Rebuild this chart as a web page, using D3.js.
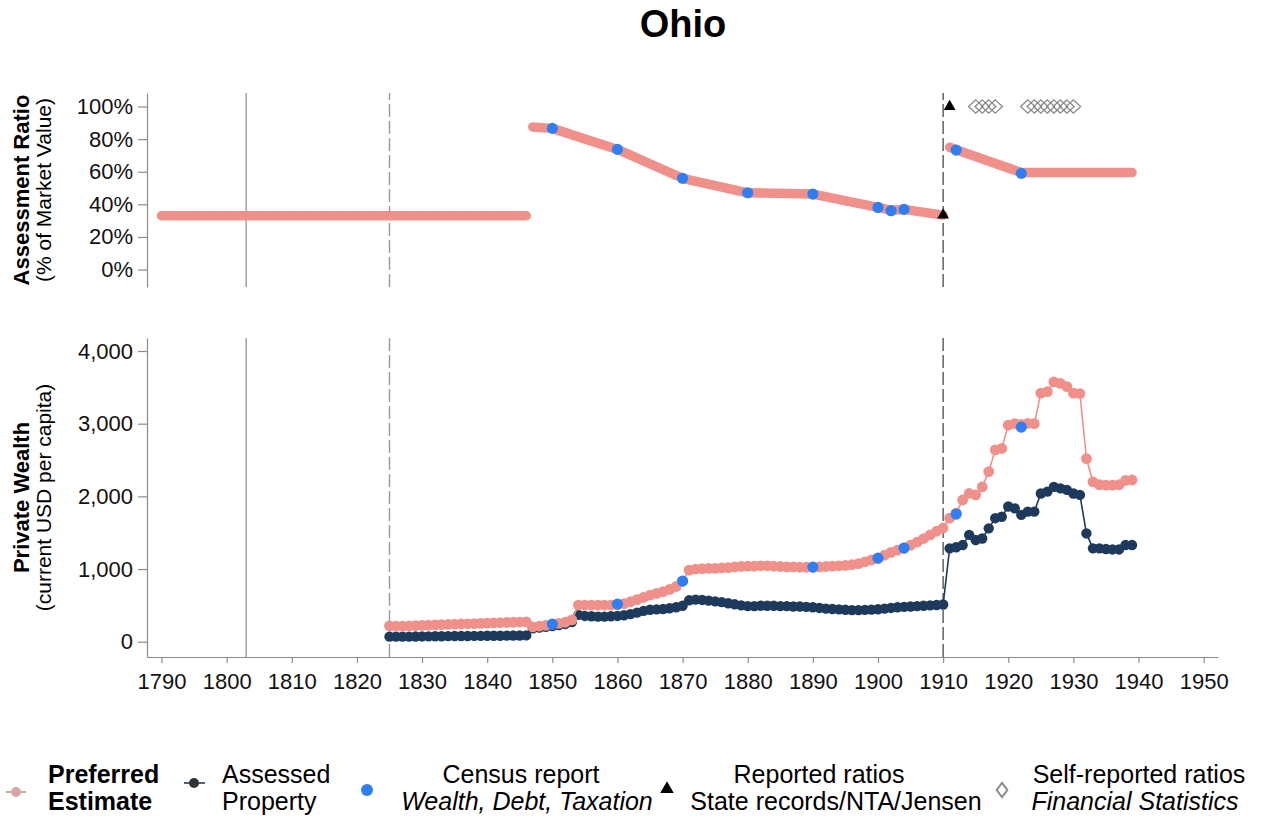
<!DOCTYPE html>
<html><head><meta charset="utf-8">
<script src="https://cdn.jsdelivr.net/npm/d3@7"></script>
<style>
body{margin:0;background:#fff;}
svg{display:block;font-family:"Liberation Sans",Arial,Helvetica,sans-serif;}
</style></head><body>
<svg id="chart" width="1267" height="816"></svg>
<script>
// ---------- data ----------
const xTickYears = [1790,1800,1810,1820,1830,1840,1850,1860,1870,1880,1890,1900,1910,1920,1930,1940,1950];
const ratioTicks = [0,20,40,60,80,100];
const wealthTicks = [0,1000,2000,3000,4000];
const refLineYears = [1803,1825,1910];

// Assessment ratio (preferred), three separate segments
const ratioSeg1Years = [1790,1846];
const ratioSeg1Values = [33,33];
const ratioSeg2Years = [1847,1850,1860,1870,1880,1890,1900,1902,1904,1910];
const ratioSeg2Values = [87.5,86.6,73.7,56,47.1,46.3,38.1,36.4,36.9,33.4];
const ratioSeg3Years = [1911,1912,1922,1939];
const ratioSeg3Values = [75,73.5,59.5,59.5];

// Census report ratios
const censusRatioYears = [1850,1860,1870,1880,1890,1900,1902,1904,1912,1922];
const censusRatioValues = [86.6,73.7,56,47.1,46.3,38.1,36.1,36.9,73.3,59];

// Reported ratios (state records / NTA / Jensen)
const reportedYears = [1910,1911];
const reportedValues = [33.4,100];

// Self-reported ratios (Financial Statistics)
const selfRepYears = [1915,1916,1917,1918,1923,1924,1925,1926,1927,1928,1929,1930];
const selfRepValues = [100,100,100,100,100,100,100,100,100,100,100,100];

// Private wealth per capita
const wealthYears = d3.range(1825,1940);
const preferredValues = [
 218,215,214,217,221,225,228,232,235,238,241,244,247,250,253,256,259,262,265,268,271,274,
 205,215,225,240,252,268,300,
 505,505,505,505,505,505,512,525,550,580,610,640,665,690,720,760,835,
 985,1000,1005,1010,1010,1015,1020,1030,1035,1040,1040,1045,1045,1040,1035,1030,1030,1025,1025,1025,
 1030,1035,1040,1045,1050,1060,1075,1100,1125,1145,1190,1230,1260,1290,1330,1370,1420,1470,1520,1565,
 1700,1770,1950,2040,2020,2130,2340,2640,2660,2980,3000,2990,3005,3000,3420,3440,3575,3555,3510,3420,
 3415,2520,2200,2160,2155,2155,2160,2220,2225];
const assessedValues = [
 70,70,70,71,72,73,74,75,76,77,78,78,79,80,81,82,83,83,84,85,86,87,
 185,195,205,215,228,245,270,
 370,355,350,345,345,350,355,365,380,400,425,440,445,450,460,475,495,
 570,580,575,565,555,545,530,515,500,490,490,495,495,495,490,490,485,485,480,475,
 465,455,450,445,440,435,435,438,442,446,455,465,475,480,485,490,495,500,505,512,
 1285,1300,1330,1470,1400,1420,1560,1700,1720,1860,1835,1745,1790,1790,2040,2065,2130,2110,2090,2040,
 2020,1490,1285,1285,1275,1270,1270,1330,1330];
const censusWealthYears = [1850,1860,1870,1890,1900,1904,1912,1922];
const censusWealthValues = [243,517,834,1027,1150,1289,1757,2953];

// ---------- styles ----------
const PINK = "#f0908a", NAVY = "#1d3a5c", BLUE = "#2f7ff2", AXIS = "#8c8c8c";
const svg = d3.select("#chart");

const x = d3.scaleLinear().domain([1787.77,1952.2]).range([147,1218]);
const yTop = d3.scaleLinear().domain([-10.7,108.3]).range([287,93]);
const yBot = d3.scaleLinear().domain([-210,4179]).range([657,338]);

// title
svg.append("text").attr("x",683).attr("y",37).attr("text-anchor","middle")
  .attr("font-size",38).attr("font-weight","bold").text("Ohio");

// reference lines
function refLines(y){
  refLineYears.forEach((yr,i)=>{
    svg.append("line").attr("x1",x(yr)).attr("x2",x(yr))
      .attr("y1",y.range()[0]).attr("y2",y.range()[1])
      .attr("stroke", i===2 ? "#555" : "#999")
      .attr("stroke-width",1.4)
      .attr("stroke-dasharray", i===0 ? null : "13,4");
  });
}
refLines(yTop); refLines(yBot);

// axes
function styleAxis(g){
  g.selectAll("path,line").attr("stroke",AXIS).attr("stroke-width",1.2);
  g.selectAll("text").attr("fill","#111").attr("font-size",22)
   .attr("font-family","'Liberation Sans',Arial,sans-serif");
}
svg.append("g").attr("transform","translate(147,0)")
  .call(d3.axisLeft(yTop).tickValues(ratioTicks).tickFormat(d=>d+"%").tickSize(9).tickPadding(5).tickSizeOuter(0))
  .call(styleAxis);
svg.append("g").attr("transform","translate(147,0)")
  .call(d3.axisLeft(yBot).tickValues(wealthTicks).tickFormat(d3.format(",")).tickSize(9).tickPadding(5).tickSizeOuter(0))
  .call(styleAxis);
svg.append("g").attr("transform","translate(0,657)")
  .call(d3.axisBottom(x).tickValues(xTickYears).tickFormat(d3.format("d")).tickSize(6).tickPadding(10).tickSizeOuter(0))
  .call(styleAxis);

// axis titles
function yTitle(y, bold, sub){
  const cy = (y.range()[0]+y.range()[1])/2;
  svg.append("text").attr("transform",`translate(29,${cy}) rotate(-90)`)
    .attr("text-anchor","middle").attr("font-size",22).attr("font-weight","bold").text(bold);
  svg.append("text").attr("transform",`translate(51,${cy}) rotate(-90)`)
    .attr("text-anchor","middle").attr("font-size",21).text(sub);
}
yTitle(yTop,"Assessment Ratio","(% of Market Value)");
yTitle(yBot,"Private Wealth","(current USD per capita)");

// ---------- top panel ----------
const thick = d3.line().x(d=>x(d[0])).y(d=>yTop(d[1]));
[[ratioSeg1Years,ratioSeg1Values],[ratioSeg2Years,ratioSeg2Values],[ratioSeg3Years,ratioSeg3Values]]
 .forEach(([ys,vs])=>{
  svg.append("path").datum(ys.map((yr,i)=>[yr,vs[i]]))
   .attr("d",thick).attr("fill","none").attr("stroke",PINK).attr("stroke-width",9.5)
   .attr("stroke-linecap","round").attr("stroke-linejoin","round");
 });
svg.append("g").selectAll("circle").data(censusRatioYears.map((yr,i)=>[yr,censusRatioValues[i]]))
  .join("circle").attr("cx",d=>x(d[0])).attr("cy",d=>yTop(d[1])).attr("r",5.6).attr("fill",BLUE);
const tri = d3.symbol().type(d3.symbolTriangle).size(60);
svg.append("g").selectAll("path").data(reportedYears.map((yr,i)=>[yr,reportedValues[i]]))
  .join("path").attr("d",tri).attr("transform",d=>`translate(${x(d[0])},${yTop(d[1])})`).attr("fill","#000");
const dia = d3.symbol().type(d3.symbolDiamond).size(80);
svg.append("g").selectAll("path").data(selfRepYears.map((yr,i)=>[yr,selfRepValues[i]]))
  .join("path").attr("d",dia).attr("transform",d=>`translate(${x(d[0])},${yTop(d[1])}) scale(1.5,0.8)`)
  .attr("fill","none").attr("stroke","#888").attr("stroke-width",1.1);

// ---------- bottom panel ----------
const assessed = wealthYears.map((yr,i)=>[yr,assessedValues[i]]);
const preferred = wealthYears.map((yr,i)=>[yr,preferredValues[i]]);
const lb = d3.line().x(d=>x(d[0])).y(d=>yBot(d[1]));
svg.append("path").datum(assessed).attr("d",lb).attr("fill","none").attr("stroke",NAVY).attr("stroke-width",1.6);
svg.append("g").selectAll("circle").data(assessed).join("circle")
  .attr("cx",d=>x(d[0])).attr("cy",d=>yBot(d[1])).attr("r",5.2).attr("fill",NAVY);
svg.append("path").datum(preferred).attr("d",lb).attr("fill","none").attr("stroke",PINK).attr("stroke-width",1.6);
svg.append("g").selectAll("circle").data(preferred).join("circle")
  .attr("cx",d=>x(d[0])).attr("cy",d=>yBot(d[1])).attr("r",5.4).attr("fill",PINK);
svg.append("g").selectAll("circle").data(censusWealthYears.map((yr,i)=>[yr,censusWealthValues[i]]))
  .join("circle").attr("cx",d=>x(d[0])).attr("cy",d=>yBot(d[1])).attr("r",5.6).attr("fill",BLUE);

// ---------- legend ----------
const L = svg.append("g").attr("font-size",25);
const r1 = 783, r2 = 810;
// preferred
L.append("line").attr("x1",6).attr("x2",26).attr("y1",792).attr("y2",792).attr("stroke","#d9a5aa").attr("stroke-width",2);
L.append("circle").attr("cx",16).attr("cy",792).attr("r",5).attr("fill","#d9a5aa");
L.append("text").attr("x",48).attr("y",r1).attr("font-weight","bold").text("Preferred");
L.append("text").attr("x",48).attr("y",r2).attr("font-weight","bold").text("Estimate");
// assessed
L.append("line").attr("x1",184).attr("x2",205).attr("y1",783).attr("y2",783).attr("stroke",NAVY).attr("stroke-width",1.6);
L.append("circle").attr("cx",194).attr("cy",783).attr("r",5).attr("fill","#333");
L.append("text").attr("x",222).attr("y",r1).text("Assessed");
L.append("text").attr("x",222).attr("y",r2).text("Property");
// census
L.append("circle").attr("cx",367).attr("cy",790).attr("r",6).attr("fill",BLUE);
L.append("text").attr("x",521).attr("y",r1).attr("text-anchor","middle").text("Census report");
L.append("text").attr("x",527).attr("y",r2).attr("text-anchor","middle").attr("font-style","italic").text("Wealth, Debt, Taxation");
// reported
L.append("path").attr("d",d3.symbol().type(d3.symbolTriangle).size(80)).attr("transform","translate(667,789)").attr("fill","#000");
L.append("text").attr("x",819).attr("y",r1).attr("text-anchor","middle").text("Reported ratios");
L.append("text").attr("x",836).attr("y",r2).attr("text-anchor","middle").text("State records/NTA/Jensen");
// self-reported
L.append("path").attr("d",d3.symbol().type(d3.symbolDiamond).size(55)).attr("transform","translate(1002,790) scale(1.35,1.05)")
  .attr("fill","none").attr("stroke","#8a8a8a").attr("stroke-width",1.5);
L.append("text").attr("x",1139).attr("y",r1).attr("text-anchor","middle").text("Self-reported ratios");
L.append("text").attr("x",1135).attr("y",r2).attr("text-anchor","middle").attr("font-style","italic").text("Financial Statistics");
</script>
</body></html>
